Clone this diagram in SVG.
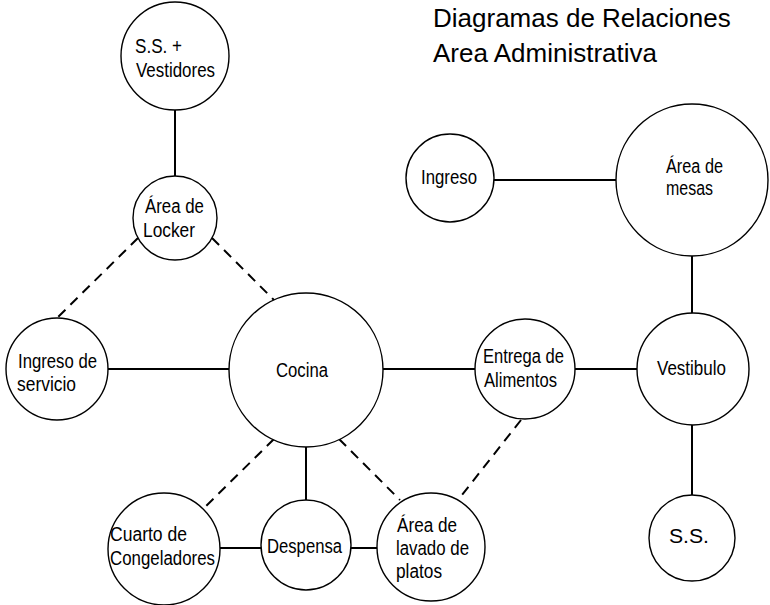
<svg xmlns="http://www.w3.org/2000/svg" width="770" height="605" viewBox="0 0 770 605">
<style>
.n{fill:#fff;stroke:#000;stroke-width:1.4}
.t{font-family:"Liberation Sans",Arial,sans-serif;font-size:20px;fill:#000}
.h{font-family:"Liberation Sans",Arial,sans-serif;font-size:26px;fill:#000}
.s{stroke:#000;stroke-width:2;fill:none}
.d{stroke:#000;stroke-width:2;fill:none;stroke-dasharray:10 7}
</style>
<rect width="770" height="605" fill="#fff"/>
<g id="connectors">
<line class="s" x1="175" y1="110" x2="175" y2="176"/>
<line class="d" x1="138" y1="238" x2="57" y2="318"/>
<line class="d" x1="212" y1="238" x2="274" y2="300"/>
<line class="s" x1="107" y1="369" x2="229" y2="369"/>
<line class="s" x1="383" y1="369" x2="475" y2="369"/>
<line class="s" x1="575" y1="369" x2="637" y2="369"/>
<line class="s" x1="306" y1="447" x2="306" y2="502"/>
<line class="d" x1="274" y1="439" x2="204" y2="508"/>
<line class="d" x1="339" y1="439" x2="400" y2="500"/>
<line class="d" x1="521" y1="420" x2="458" y2="500"/>
<line class="s" x1="220" y1="548" x2="261" y2="548"/>
<line class="s" x1="351" y1="548" x2="377" y2="548"/>
<line class="s" x1="494" y1="180" x2="616" y2="180"/>
<line class="s" x1="692" y1="256" x2="692" y2="313"/>
<line class="s" x1="692" y1="425" x2="692" y2="495"/>
</g>
<g id="title">
<text class="h" x="433" y="27">Diagramas de Relaciones</text>
<text class="h" x="433" y="62">Area Administrativa</text>
</g>
<g id="ss-vestidores"><circle class="n" cx="175" cy="56" r="54"/><text class="t" x="135" y="53" textLength="47" lengthAdjust="spacingAndGlyphs">S.S. +</text><text class="t" x="136" y="77" textLength="79" lengthAdjust="spacingAndGlyphs">Vestidores</text></g>
<g id="area-locker"><circle class="n" cx="175" cy="218" r="42"/><text class="t" x="145" y="213" textLength="59" lengthAdjust="spacingAndGlyphs">Área de</text><text class="t" x="143" y="237" textLength="52" lengthAdjust="spacingAndGlyphs">Locker</text></g>
<g id="ingreso-servicio"><circle class="n" cx="57" cy="369" r="51"/><text class="t" x="18" y="368" textLength="79" lengthAdjust="spacingAndGlyphs">Ingreso de</text><text class="t" x="17" y="391" textLength="59" lengthAdjust="spacingAndGlyphs">servicio</text></g>
<g id="cocina"><circle class="n" cx="306" cy="370" r="77"/><text class="t" x="276" y="377" textLength="52" lengthAdjust="spacingAndGlyphs">Cocina</text></g>
<g id="entrega-alimentos"><circle class="n" cx="525" cy="369" r="50"/><text class="t" x="483" y="363" textLength="81" lengthAdjust="spacingAndGlyphs">Entrega de</text><text class="t" x="484" y="387" textLength="73" lengthAdjust="spacingAndGlyphs">Alimentos</text></g>
<g id="vestibulo"><circle class="n" cx="693" cy="369" r="56"/><text class="t" x="657" y="375" textLength="69" lengthAdjust="spacingAndGlyphs">Vestibulo</text></g>
<g id="ss"><circle class="n" cx="692" cy="538" r="43"/><text class="t" x="669" y="543" textLength="40" lengthAdjust="spacingAndGlyphs">S.S.</text></g>
<g id="ingreso"><circle class="n" cx="450" cy="178" r="44"/><text class="t" x="421" y="184" textLength="56" lengthAdjust="spacingAndGlyphs">Ingreso</text></g>
<g id="area-mesas"><circle class="n" cx="692" cy="180" r="76"/><text class="t" x="666" y="173" textLength="57" lengthAdjust="spacingAndGlyphs">Área de</text><text class="t" x="666" y="195" textLength="47" lengthAdjust="spacingAndGlyphs">mesas</text></g>
<g id="cuarto-congeladores"><circle class="n" cx="164" cy="549" r="56"/><text class="t" x="110" y="541" textLength="77" lengthAdjust="spacingAndGlyphs">Cuarto de</text><text class="t" x="110" y="565" textLength="105" lengthAdjust="spacingAndGlyphs">Congeladores</text></g>
<g id="despensa"><circle class="n" cx="306" cy="545" r="45"/><text class="t" x="267" y="553" textLength="75" lengthAdjust="spacingAndGlyphs">Despensa</text></g>
<g id="area-lavado"><circle class="n" cx="431" cy="547" r="54"/><text class="t" x="397" y="532" textLength="60" lengthAdjust="spacingAndGlyphs">Área de</text><text class="t" x="396" y="555" textLength="73" lengthAdjust="spacingAndGlyphs">lavado de</text><text class="t" x="396" y="578" textLength="46" lengthAdjust="spacingAndGlyphs">platos</text></g>
</svg>
